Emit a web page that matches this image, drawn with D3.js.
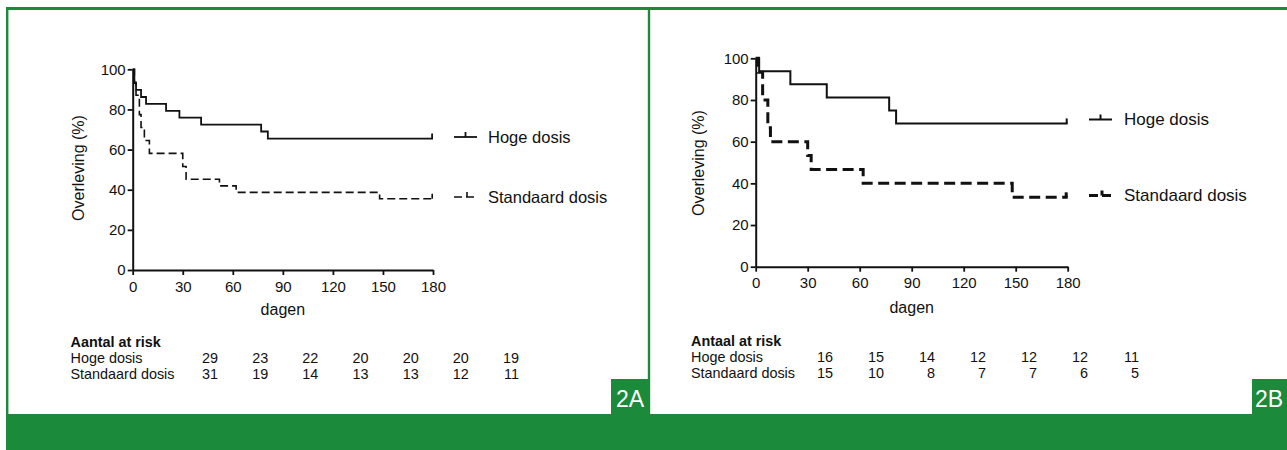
<!DOCTYPE html>
<html>
<head>
<meta charset="utf-8">
<script src="https://cdn.jsdelivr.net/npm/d3@7"></script>
<style>
  html, body { margin: 0; padding: 0; background: #fff; }
  svg { display: block; }
  text { font-family: "Liberation Sans", Arial, Helvetica, sans-serif; fill: #111; }
</style>
</head>
<body>
<svg id="chart" width="1287" height="450"></svg>
<script>
// ---------- DATA ----------
const dayTicks = [0, 30, 60, 90, 120, 150, 180];
const survivalTicks = [0, 20, 40, 60, 80, 100];
const seriesNames = ["Hoge dosis", "Standaard dosis"];
const riskTitles = ["Aantal at risk", "Antaal at risk"];
const panelLabels = ["2A", "2B"];
const xTitle = "dagen";
const yTitle = "Overleving (%)";

// Panel A – Kaplan-Meier steps (day, survival %)
const hogeA_days = [0, 1, 2, 5, 8, 20, 28, 41, 77, 81, 180];
const hogeA_surv = [100, 93.1, 89.7, 86.2, 82.8, 79.3, 75.9, 72.4, 69.0, 65.5, 65.5];
const stdA_days = [0, 1, 2, 4, 5, 7, 10, 30, 32, 52, 62, 148, 180];
const stdA_surv = [100, 93.5, 87.1, 77.4, 71.0, 64.5, 58.1, 51.6, 45.2, 41.9, 38.7, 35.5, 35.5];

// Panel B
const hogeB_days = [0, 2, 20, 41, 77, 81, 180];
const hogeB_surv = [100, 93.75, 87.5, 81.25, 75.0, 68.75, 68.75];
const stdB_days = [0, 1.5, 4, 7, 8.5, 30, 32, 62, 148, 180];
const stdB_surv = [100, 93.3, 80.0, 66.7, 60.0, 53.3, 46.7, 40.0, 33.3, 33.3];

// Numbers at risk
const riskA_hoge = [29, 23, 22, 20, 20, 20, 19];
const riskA_std = [31, 19, 14, 13, 13, 12, 11];
const riskB_hoge = [16, 15, 14, 12, 12, 12, 11];
const riskB_std = [15, 10, 8, 7, 7, 6, 5];

// ---------- LAYOUT ----------
const GREEN = "#1b8a3a";
const panels = [
  { label: panelLabels[0], title: riskTitles[0],
    hoge: d3.zip(hogeA_days, hogeA_surv), std: d3.zip(stdA_days, stdA_surv),
    riskH: riskA_hoge, riskS: riskA_std,
    px: [132.7, 433], py: [270, 69.3],
    line: 1.8, dashW: 1.6, dash: "8,4", legDash: "8,4",
    legX: 454, legTextX: 488, legY: [137, 197], legFont: 16.5,
    yTitleX: 78, yTitleY: 168, xTitleY: 315,
    tableX: 70.5, colRange: [218, 519], rowY: [347, 363, 379],
    xLabY: 291.5 },
  { label: panelLabels[1], title: riskTitles[1],
    hoge: d3.zip(hogeB_days, hogeB_surv), std: d3.zip(stdB_days, stdB_surv),
    riskH: riskB_hoge, riskS: riskB_std,
    px: [755.7, 1067.7], py: [266.7, 58.3],
    line: 2, dashW: 3, dash: "11,5.5", legDash: "9,4",
    legX: 1089, legTextX: 1124, legY: [119.5, 195.5], legFont: 17,
    yTitleX: 698, yTitleY: 163, xTitleY: 313,
    tableX: 691, colRange: [833, 1139], rowY: [346, 362, 378],
    xLabY: 288.5 }
];

const svg = d3.select("#chart");

// ---------- FRAME ----------
svg.append("rect").attr("x", 6).attr("y", 414).attr("width", 1281).attr("height", 36).attr("fill", GREEN);
svg.append("rect").attr("x", 6).attr("y", 7).attr("width", 1281).attr("height", 3).attr("fill", GREEN);
svg.append("rect").attr("x", 6).attr("y", 7).attr("width", 2.4).attr("height", 408).attr("fill", GREEN);
svg.append("rect").attr("x", 647.8).attr("y", 7).attr("width", 2.4).attr("height", 408).attr("fill", GREEN);
// label boxes
const boxes = [{ x: 611, w: 39, tx: 616 }, { x: 1252, w: 35, tx: 1255 }];
boxes.forEach((b, i) => {
  svg.append("rect").attr("x", b.x).attr("y", 379).attr("width", b.w).attr("height", 36).attr("fill", GREEN);
  svg.append("text").attr("x", b.tx).attr("y", 406.5).style("font-size", "23px")
    .style("fill", "#fff").text(panelLabels[i]);
});

// ---------- PANELS ----------
panels.forEach(p => {
  const x = d3.scaleLinear().domain([0, 180]).range(p.px);
  const y = d3.scaleLinear().domain([0, 100]).range(p.py);
  const g = svg.append("g");

  // axes
  const ya = g.append("g").attr("transform", `translate(${p.px[0]},0)`)
    .call(d3.axisLeft(y).tickValues(survivalTicks).tickSize(5).tickSizeOuter(0).tickPadding(2));
  const xa = g.append("g").attr("transform", `translate(0,${p.py[0]})`)
    .call(d3.axisBottom(x).tickValues(dayTicks).tickSize(5).tickSizeOuter(0).tickPadding(5));
  [ya, xa].forEach(a => {
    a.select(".domain").attr("stroke", "#111").attr("stroke-width", 2);
    a.selectAll(".tick line").attr("stroke", "#111").attr("stroke-width", 1.8);
    a.selectAll(".tick text").style("font-size", "15px").style("font-family", "Liberation Sans, Arial, sans-serif").attr("fill", "#111");
  });
  xa.selectAll(".tick text").attr("dy", null).attr("y", p.xLabY - p.py[0]);

  // titles
  g.append("text").attr("transform", `translate(${p.yTitleX},${p.yTitleY}) rotate(-90)`)
    .attr("text-anchor", "middle").attr("dominant-baseline", "central").style("font-size", "16px").text(yTitle);
  g.append("text").attr("x", (p.px[0] + p.px[1]) / 2).attr("y", p.xTitleY)
    .attr("text-anchor", "middle").style("font-size", "16px").text(xTitle);

  // curves
  const line = d3.line().x(d => x(d[0])).y(d => y(d[1])).curve(d3.curveStepAfter);
  g.append("path").datum(p.hoge).attr("d", line).attr("fill", "none")
    .attr("stroke", "#111").attr("stroke-width", p.line);
  g.append("path").datum(p.std).attr("d", line).attr("fill", "none")
    .attr("stroke", "#111").attr("stroke-width", p.dashW).attr("stroke-dasharray", p.dash);
  // censor ticks at end
  [[p.hoge, p.line], [p.std, p.dashW]].forEach(([s, w]) => {
    const last = s[s.length - 1];
    g.append("line").attr("x1", x(last[0]) - w / 2).attr("x2", x(last[0]) - w / 2)
      .attr("y1", y(last[1])).attr("y2", y(last[1]) - 5)
      .attr("stroke", "#111").attr("stroke-width", w);
  });

  // legend
  const lg = g.append("g");
  lg.append("line").attr("x1", p.legX).attr("x2", p.legX + 23).attr("y1", p.legY[0]).attr("y2", p.legY[0])
    .attr("stroke", "#111").attr("stroke-width", p.line);
  lg.append("line").attr("x1", p.legX + 11.5).attr("x2", p.legX + 11.5).attr("y1", p.legY[0]).attr("y2", p.legY[0] - 5)
    .attr("stroke", "#111").attr("stroke-width", p.line);
  lg.append("line").attr("x1", p.legX).attr("x2", p.legX + 23).attr("y1", p.legY[1]).attr("y2", p.legY[1])
    .attr("stroke", "#111").attr("stroke-width", p.dashW).attr("stroke-dasharray", p.legDash);
  lg.append("line").attr("x1", p.legX + 13).attr("x2", p.legX + 13).attr("y1", p.legY[1]).attr("y2", p.legY[1] - 5)
    .attr("stroke", "#111").attr("stroke-width", p.dashW);
  seriesNames.forEach((n, i) => {
    lg.append("text").attr("x", p.legTextX).attr("y", p.legY[i]).attr("dominant-baseline", "central")
      .style("font-size", p.legFont + "px").text(n);
  });

  // at-risk table
  const col = d3.scalePoint().domain(d3.range(dayTicks.length)).range(p.colRange);
  const t = g.append("g").style("font-size", "14.4px");
  t.append("text").attr("x", p.tableX).attr("y", p.rowY[0]).style("font-weight", "bold").text(p.title);
  [p.riskH, p.riskS].forEach((arr, r) => {
    t.append("text").attr("x", p.tableX).attr("y", p.rowY[r + 1]).text(seriesNames[r]);
    t.selectAll(null).data(arr).enter().append("text")
      .attr("x", (d, i) => col(i)).attr("y", p.rowY[r + 1]).attr("text-anchor", "end").text(d => d);
  });
});
</script>
</body>
</html>
